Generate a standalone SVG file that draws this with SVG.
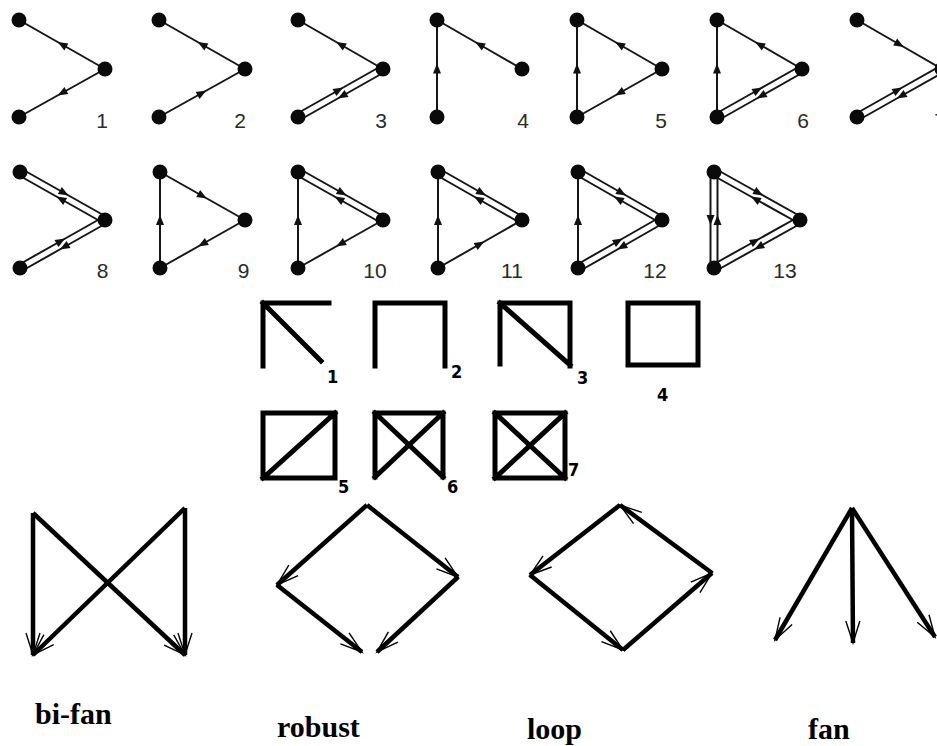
<svg xmlns="http://www.w3.org/2000/svg" width="937" height="746" viewBox="0 0 937 746">
<style>
.e{fill:none;stroke:#161616;stroke-width:2;marker-mid:url(#tri)}
.n{fill:#0a0a0a}
.lb{font-family:"Liberation Sans",Arial,sans-serif;font-size:21px;fill:#2a2a2a;text-anchor:middle}
.sq{fill:none;stroke:#000;stroke-width:5;stroke-linecap:square;stroke-linejoin:miter}
.sl{font-family:"DejaVu Sans Condensed","DejaVu Sans",sans-serif;font-weight:bold;font-size:18px;fill:#000}
.b{fill:none;stroke:#000;stroke-width:4.5;marker-end:url(#open)}
.bl{font-family:"Liberation Serif","Times New Roman",serif;font-weight:bold;font-size:30px;fill:#000}
</style>
<defs>
<marker id="tri" markerUnits="userSpaceOnUse" markerWidth="12" markerHeight="10" refX="5" refY="4" orient="auto" overflow="visible"><path d="M0,0 L10,4 L0,8 z" fill="#111"/></marker>
<marker id="open" markerUnits="userSpaceOnUse" markerWidth="30" markerHeight="30" refX="0" refY="0" orient="auto" overflow="visible"><path d="M-22,-7 L0,0 L-22,7" fill="none" stroke="#000" stroke-width="1.4"/></marker>
</defs>
<rect width="937" height="746" fill="#fff"/>

<!-- Row 1 -->
<g id="m1"><g class="edges"><path class="e" d="M105,69 L62,44.5 L19,20"/><path class="e" d="M105,69 L62,93 L19,117"/></g>
<g id="m1-nodes"><circle class="n" cx="19" cy="20" r="7.5"/><circle class="n" cx="105" cy="69" r="7.5"/><circle class="n" cx="19" cy="117" r="7.5"/></g>
<text class="lb" x="102" y="128">1</text></g>

<g id="m2"><g class="edges"><path class="e" d="M245,69 L202,44.5 L159,20"/><path class="e" d="M159,117 L202,93 L245,69"/></g>
<g id="m2-nodes"><circle class="n" cx="159" cy="20" r="7.5"/><circle class="n" cx="245" cy="69" r="7.5"/><circle class="n" cx="159" cy="117" r="7.5"/></g>
<text class="lb" x="240" y="128">2</text></g>

<g id="m3"><g class="edges"><path class="e" d="M383,69 L340.5,44.5 L298,20"/><path class="e" d="M296.3,114 L338.8,90 L381.3,66"/><path class="e" d="M384.7,72 L342.2,96 L299.7,120"/></g>
<g id="m3-nodes"><circle class="n" cx="298" cy="20" r="7.5"/><circle class="n" cx="383" cy="69" r="7.5"/><circle class="n" cx="298" cy="117" r="7.5"/></g>
<text class="lb" x="381" y="128">3</text></g>

<g id="m4"><g class="edges"><path class="e" d="M437,117 L437,68.5 L437,20"/><path class="e" d="M522,69 L479.5,44.5 L437,20"/></g>
<g id="m4-nodes"><circle class="n" cx="437" cy="20" r="7.5"/><circle class="n" cx="522" cy="69" r="7.5"/><circle class="n" cx="437" cy="117" r="7.5"/></g>
<text class="lb" x="523" y="128">4</text></g>

<g id="m5"><g class="edges"><path class="e" d="M577,117 L577,68.5 L577,20"/><path class="e" d="M662,69 L619.5,44.5 L577,20"/><path class="e" d="M662,69 L619.5,93 L577,117"/></g>
<g id="m5-nodes"><circle class="n" cx="577" cy="20" r="7.5"/><circle class="n" cx="662" cy="69" r="7.5"/><circle class="n" cx="577" cy="117" r="7.5"/></g>
<text class="lb" x="661" y="128">5</text></g>

<g id="m6"><g class="edges"><path class="e" d="M717,117 L717,68.5 L717,20"/><path class="e" d="M802,69 L759.5,44.5 L717,20"/><path class="e" d="M715.3,114 L757.8,90 L800.3,66"/><path class="e" d="M803.7,72 L761.2,96 L718.7,120"/></g>
<g id="m6-nodes"><circle class="n" cx="717" cy="20" r="7.5"/><circle class="n" cx="802" cy="69" r="7.5"/><circle class="n" cx="717" cy="117" r="7.5"/></g>
<text class="lb" x="803" y="128">6</text></g>

<g id="m7"><g class="edges"><path class="e" d="M857,20 L899.5,44.5 L942,69"/><path class="e" d="M855.3,114 L897.8,90 L940.3,66"/><path class="e" d="M943.7,72 L901.2,96 L858.7,120"/></g>
<g id="m7-nodes"><circle class="n" cx="857" cy="20" r="7.5"/><circle class="n" cx="942" cy="69" r="7.5"/><circle class="n" cx="857" cy="117" r="7.5"/></g>
<text class="lb" x="940" y="128">7</text></g>

<!-- Row 2 -->
<g id="m8"><g class="edges"><path class="e" d="M21.7,169 L64.2,193 L106.7,217"/><path class="e" d="M103.3,223 L60.8,199 L18.3,175"/><path class="e" d="M18.3,265 L60.8,241 L103.3,217"/><path class="e" d="M106.7,223 L64.2,247 L21.7,271"/></g>
<g id="m8-nodes"><circle class="n" cx="20" cy="172" r="7.5"/><circle class="n" cx="105" cy="220" r="7.5"/><circle class="n" cx="20" cy="268" r="7.5"/></g>
<text class="lb" x="102.5" y="278">8</text></g>

<g id="m9"><g class="edges"><path class="e" d="M160,268 L160,220 L160,172"/><path class="e" d="M160,172 L202.5,196 L245,220"/><path class="e" d="M245,220 L202.5,244 L160,268"/></g>
<g id="m9-nodes"><circle class="n" cx="160" cy="172" r="7.5"/><circle class="n" cx="245" cy="220" r="7.5"/><circle class="n" cx="160" cy="268" r="7.5"/></g>
<text class="lb" x="243.5" y="278">9</text></g>

<g id="m10"><g class="edges"><path class="e" d="M298,268 L298,220 L298,172"/><path class="e" d="M299.7,169 L342.2,193 L384.7,217"/><path class="e" d="M381.3,223 L338.8,199 L296.3,175"/><path class="e" d="M383,220 L340.5,244 L298,268"/></g>
<g id="m10-nodes"><circle class="n" cx="298" cy="172" r="7.5"/><circle class="n" cx="383" cy="220" r="7.5"/><circle class="n" cx="298" cy="268" r="7.5"/></g>
<text class="lb" x="375" y="278">10</text></g>

<g id="m11"><g class="edges"><path class="e" d="M438,268 L438,220 L438,172"/><path class="e" d="M439.7,169 L481.7,193 L523.7,217"/><path class="e" d="M520.3,223 L478.3,199 L436.3,175"/><path class="e" d="M438,268 L480,244 L522,220"/></g>
<g id="m11-nodes"><circle class="n" cx="438" cy="172" r="7.5"/><circle class="n" cx="522" cy="220" r="7.5"/><circle class="n" cx="438" cy="268" r="7.5"/></g>
<text class="lb" x="512" y="278">11</text></g>

<g id="m12"><g class="edges"><path class="e" d="M578,268 L578,220 L578,172"/><path class="e" d="M579.7,169 L621.7,193 L663.7,217"/><path class="e" d="M660.3,223 L618.3,199 L576.3,175"/><path class="e" d="M576.3,265 L618.3,241 L660.3,217"/><path class="e" d="M663.7,223 L621.7,247 L579.7,271"/></g>
<g id="m12-nodes"><circle class="n" cx="578" cy="172" r="7.5"/><circle class="n" cx="662" cy="220" r="7.5"/><circle class="n" cx="578" cy="268" r="7.5"/></g>
<text class="lb" x="655" y="278">12</text></g>

<g id="m13"><g class="edges"><path class="e" d="M710.5,172 L710.5,220 L710.5,268"/><path class="e" d="M717.5,268 L717.5,220 L717.5,172"/><path class="e" d="M715.7,169 L758.7,193 L801.7,217"/><path class="e" d="M798.3,223 L755.3,199 L712.3,175"/><path class="e" d="M712.3,265 L755.3,241 L798.3,217"/><path class="e" d="M801.7,223 L758.7,247 L715.7,271"/></g>
<g id="m13-nodes"><circle class="n" cx="714" cy="172" r="7.5"/><circle class="n" cx="800" cy="220" r="7.5"/><circle class="n" cx="714" cy="268" r="7.5"/></g>
<text class="lb" x="785" y="278">13</text></g>

<!-- Square motifs -->
<g id="s1"><path class="sq" d="M263,366 L263,303 L329,303 M263,303 L321,361"/><text class="sl" x="327" y="383">1</text></g>
<g id="s2"><path class="sq" d="M375,366 L375,303 L445,303 L445,366"/><text class="sl" x="451" y="378">2</text></g>
<g id="s3"><path class="sq" d="M500,364 L500,303 L570,303 L570,366 M500,303 L570,365"/><text class="sl" x="577" y="384">3</text></g>
<g id="s4"><path class="sq" d="M628,303 H698 V365 H628 Z"/><text class="sl" x="657" y="401">4</text></g>
<g id="s5"><path class="sq" d="M263,413 H335 V478 H263 Z M263,478 L335,413"/><text class="sl" x="338" y="493">5</text></g>
<g id="s6"><path class="sq" d="M375,477 L375,413 L443,413 L443,477 M375,413 L443,477 M375,477 L443,413"/><text class="sl" x="447" y="493">6</text></g>
<g id="s7"><path class="sq" d="M495,413 H565 V478 H495 Z M495,413 L565,478 M495,478 L565,413"/><text class="sl" x="568" y="476">7</text></g>

<!-- Bottom motifs -->
<g id="bifan"><g class="edges"><path class="b" d="M33,513 L33,655"/><path class="b" d="M33,513 L185,655"/><path class="b" d="M185,508 L33,655"/><path class="b" d="M185,508 L185,655"/></g>
<text class="bl" x="35" y="724">bi-fan</text></g>
<g id="robust"><g class="edges"><path class="b" d="M367,505 L277,585"/><path class="b" d="M367,505 L458,577"/><path class="b" d="M277,585 L362,652"/><path class="b" d="M458,577 L377,652"/></g>
<text class="bl" x="277" y="737">robust</text></g>
<g id="loop"><g class="edges"><path class="b" d="M712,573 L620,505"/><path class="b" d="M620,505 L530,575"/><path class="b" d="M530,575 L623,650"/><path class="b" d="M623,650 L712,573"/></g>
<text class="bl" x="527" y="739">loop</text></g>
<g id="fan"><g class="edges"><path class="b" d="M852,508 L775,640"/><path class="b" d="M852,508 L853,643"/><path class="b" d="M852,508 L935,637"/></g>
<text class="bl" x="808" y="739">fan</text></g>
</svg>
